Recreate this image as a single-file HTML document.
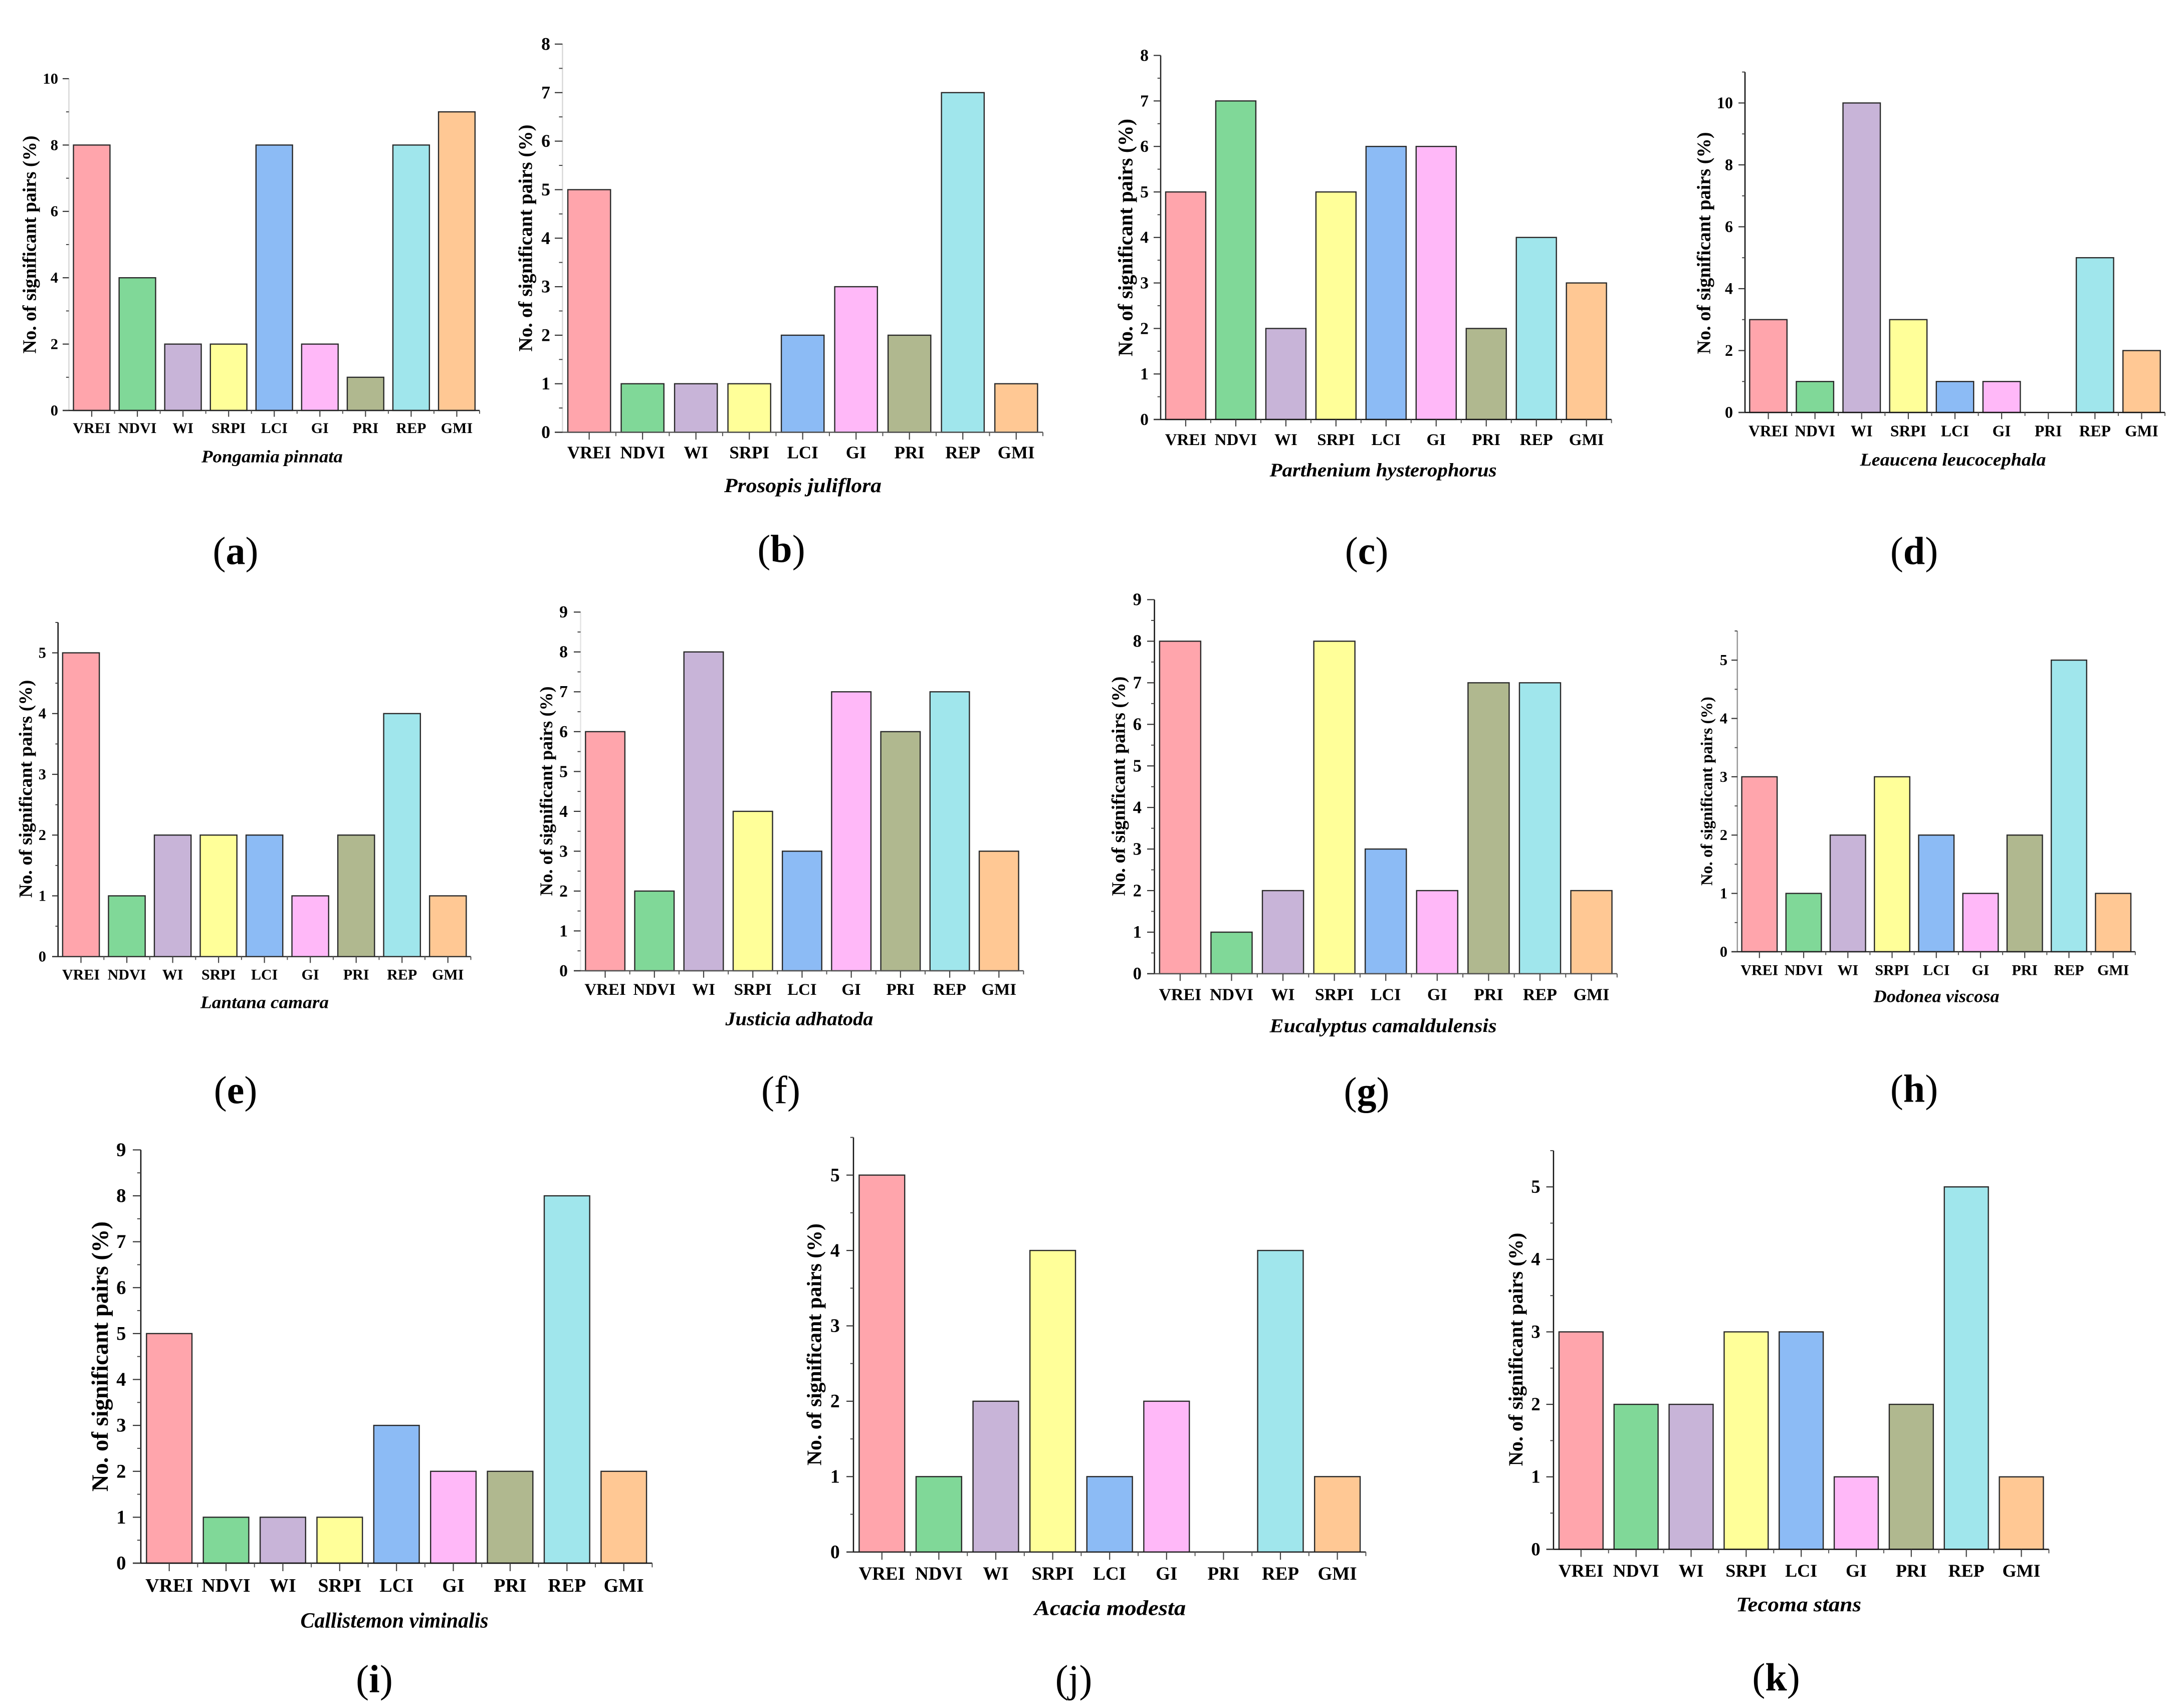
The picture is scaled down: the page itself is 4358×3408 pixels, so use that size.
<!DOCTYPE html>
<html lang="en">
<head>
<meta charset="utf-8">
<title>Number of significant pairs per vegetation index, by species</title>
<style>
html,body{margin:0;padding:0;background:#fff;}
svg{display:block;font-family:"Liberation Serif",serif;}
text{fill:#000;}
</style>
</head>
<body>
<svg id="figure" xmlns="http://www.w3.org/2000/svg" width="4358" height="3408" viewBox="0 0 4358 3408"></svg>
<script>
// Shared categories and colours
const categories = ['VREI','NDVI','WI','SRPI','LCI','GI','PRI','REP','GMI'];
const barColors = ['#FFA5AC','#80D898','#C8B4D8','#FFFF99','#8CBBF5','#FFB8F8','#B0B88F','#A0E6EC','#FFC894'];

// Species names
const speciesNames = ['Pongamia pinnata','Prosopis juliflora','Parthenium hysterophorus','Leaucena leucocephala','Lantana camara','Justicia adhatoda','Eucalyptus camaldulensis','Dodonea viscosa','Callistemon viminalis','Acacia modesta','Tecoma stans'];
const panelLetters = ['a','b','c','d','e','f','g','h','i','j','k'];
const yAxisTitle = 'No. of significant pairs (%)';

// Series values
const valuesA = [8,4,2,2,8,2,1,8,9];
const valuesB = [5,1,1,1,2,3,2,7,1];
const valuesC = [5,7,2,5,6,6,2,4,3];
const valuesD = [3,1,10,3,1,1,0,5,2];
const valuesE = [5,1,2,2,2,1,2,4,1];
const valuesF = [6,2,8,4,3,7,6,7,3];
const valuesG = [8,1,2,8,3,2,7,7,2];
const valuesH = [3,1,2,3,2,1,2,5,1];
const valuesI = [5,1,1,1,3,2,2,8,2];
const valuesJ = [5,1,2,4,1,2,0,4,1];
const valuesK = [3,2,2,3,3,1,2,5,1];

// Y tick labels
const ticksA = [0,2,4,6,8,10];
const ticksB = [0,1,2,3,4,5,6,7,8];
const ticksC = [0,1,2,3,4,5,6,7,8];
const ticksD = [0,2,4,6,8,10];
const ticksE = [0,1,2,3,4,5];
const ticksF = [0,1,2,3,4,5,6,7,8,9];
const ticksG = [0,1,2,3,4,5,6,7,8,9];
const ticksH = [0,1,2,3,4,5];
const ticksI = [0,1,2,3,4,5,6,7,8,9];
const ticksJ = [0,1,2,3,4,5];
const ticksK = [0,1,2,3,4,5];

// Y axis maxima
const axisMaxima = [10,8,8,11,5.5,9,9,5.5,9,5.5,5.5];

const allValues = [valuesA,valuesB,valuesC,valuesD,valuesE,valuesF,valuesG,valuesH,valuesI,valuesJ,valuesK];
const allTicks = [ticksA,ticksB,ticksC,ticksD,ticksE,ticksF,ticksG,ticksH,ticksI,ticksJ,ticksK];

// Page layout of each panel (pixels), separate from the data above
const layouts = [
 {xs:137.5,xe:957,y0:819,yTop:157,tickR:116,tickL:125,labX:60,labY:488,labLen:435,catY:854,catF:30,titleX:543,titleY:914,titleLen:282,letX:470,letY:1106,yAxisCol:'#d8d8d8',xAxisCol:'#222'},
 {xs:1122.4,xe:2081,y0:862.5,yTop:88,tickR:1098,tickL:1107,labX:1050,labY:475,labLen:453,catY:903,catF:35,titleX:1602,titleY:972,titleLen:314,letX:1559,letY:1102,yAxisCol:'#d8d8d8',xAxisCol:'#555'},
 {xs:2316,xe:3215.6,y0:837,yTop:110.6,tickR:2292,tickL:2302,labX:2247,labY:474,labLen:474,catY:877,catF:33,titleX:2760,titleY:941,titleLen:453,letX:2727,letY:1106,yAxisCol:'#222',xAxisCol:'#111'},
 {xs:3482,xe:4320,y0:823,yTop:143.7,tickR:3458,tickL:3469,labX:3401,labY:485,labLen:443,catY:860,catF:31.6,titleX:3897,titleY:920,titleLen:371,letX:3819.5,letY:1106,yAxisCol:'#111',xAxisCol:'#111'},
 {xs:115.8,xe:939.5,y0:1908.7,yTop:1242,tickR:92,tickL:104,labX:52,labY:1574,labLen:434.6,catY:1944.6,catF:30,titleX:528,titleY:2003,titleLen:256,letX:470,letY:2182,yAxisCol:'#111',xAxisCol:'#333'},
 {xs:1158.5,xe:2042.4,y0:1937,yTop:1221.3,tickR:1133,tickL:1145,labX:1091,labY:1578.5,labLen:418,catY:1974,catF:33,titleX:1595,titleY:2036,titleLen:295,letX:1558,letY:2182,yAxisCol:'#e4e4e4',xAxisCol:'#555',thinLetter:true},
 {xs:2303.6,xe:3226.8,y0:1942.9,yTop:1196.5,tickR:2278,tickL:2289,labX:2233,labY:1568.6,labLen:438,catY:1984.3,catF:34,titleX:2760,titleY:2049.5,titleLen:453,letX:2727,letY:2184,yAxisCol:'#111',xAxisCol:'#555'},
 {xs:3466.7,xe:4260.8,y0:1899,yTop:1259,tickR:3447,tickL:3455,labX:3406.6,labY:1578.6,labLen:377,catY:1935.6,catF:30,titleX:3864,titleY:1991,titleLen:251,letX:3819.5,letY:2179,yAxisCol:'#999',xAxisCol:'#222'},
 {xs:281,xe:1301.4,y0:3119,yTop:2294.4,tickR:251.5,tickL:265,labX:201,labY:2706.6,labLen:539,catY:3163.7,catF:38,titleX:787,titleY:3236.7,titleLen:375,letX:747,letY:3357,yAxisCol:'#111',xAxisCol:'#111'},
 {xs:1703,xe:2725.4,y0:3096.7,yTop:2269.5,tickR:1675.8,tickL:1689,labX:1626,labY:2682.6,labLen:483,catY:3140,catF:37,titleX:2215,titleY:3212,titleLen:302.6,letX:2142.5,letY:3357,yAxisCol:'#111',xAxisCol:'#222',thinLetter:true},
 {xs:3099.9,xe:4088.4,y0:3091.4,yTop:2295.9,tickR:3073.6,tickL:3085.5,labX:3025.7,labY:2692.5,labLen:465.6,catY:3133.9,catF:36,titleX:3589,titleY:3204.6,titleLen:250,letX:3544,letY:3353.6,yAxisCol:'#111',xAxisCol:'#111'}
];

const NS = 'http://www.w3.org/2000/svg';
const LABEL_EM = 11.583;
const figure = document.getElementById('figure');

function mk(tag, attrs, parent) {
  const node = document.createElementNS(NS, tag);
  for (const k in attrs) node.setAttribute(k, attrs[k]);
  parent.appendChild(node);
  return node;
}

layouts.forEach(function (L, p) {
  const values = allValues[p];
  const ticks = allTicks[p];
  const yMax = axisMaxima[p];
  const band = (L.xe - L.xs) / categories.length;
  const xCenter = function (i) { return L.xs + band * (i + 0.5); };
  const yScale = function (v) { return L.y0 - v * (L.y0 - L.yTop) / yMax; };
  const letter = panelLetters[p];

  const g = mk('g', {}, figure);
  
  

  // bars
  values.forEach(function (v, i) {
    const top = yScale(v);
    const w = band * 0.8;
    const bar = mk('rect', {x: xCenter(i) - w / 2, y: top, width: w, height: L.y0 - top, fill: barColors[i], stroke: '#2a2a2a', 'stroke-width': 2.4}, g);
    
    
  });

  // y axis line
  const yAxis = mk('line', {x1: L.xs, x2: L.xs, y1: L.yTop, y2: L.y0, stroke: L.yAxisCol, 'stroke-width': 2.5}, g);
  
  

  // x axis line
  const xAxis = mk('line', {x1: L.tickL, x2: L.xe, y1: L.y0, y2: L.y0, stroke: L.xAxisCol, 'stroke-width': 2.5}, g);
  
  

  // y ticks and labels
  const major = ticks[1] - ticks[0];
  const minorLen = (L.xs - L.tickL) * 0.45;
  ticks.forEach(function (t) {
    const yy = yScale(t);
    const tick = mk('line', {x1: L.tickL, x2: L.xs, y1: yy, y2: yy, stroke: '#333', 'stroke-width': 2.2}, g);
    
    
    const lab = mk('text', {x: L.tickR, y: yy + L.catF * 0.33, 'text-anchor': 'end', 'font-size': L.catF * 1.02, 'font-weight': 'bold'}, g);
    lab.textContent = String(t);
    
    
    if (t + major / 2 <= yMax) {
      const ym = yScale(t + major / 2);
      const minor = mk('line', {x1: L.xs - minorLen, x2: L.xs, y1: ym, y2: ym, stroke: '#444', 'stroke-width': 2}, g);
      
      
    }
  });

  // x ticks and labels
  categories.forEach(function (c, i) {
    const cx = xCenter(i);
    const tick = mk('line', {x1: cx, x2: cx, y1: L.y0, y2: L.y0 + (L.catF * 0.42), stroke: '#444', 'stroke-width': 2.2}, g);
    
    
    const edge = L.xs + band * (i + 1);
    const minor = mk('line', {x1: edge, x2: edge, y1: L.y0, y2: L.y0 + (L.catF * 0.22), stroke: '#555', 'stroke-width': 2}, g);
    
    
    const lab = mk('text', {x: cx, y: L.catY + L.catF * 0.33, 'text-anchor': 'middle', 'font-size': L.catF, 'font-weight': 'bold'}, g);
    lab.textContent = c;
    
    
  });

  // y axis title
  const labF = L.labLen / LABEL_EM;
  const yTitle = mk('text', {transform: 'translate(' + (L.labX + labF * 0.3) + ',' + L.labY + ') rotate(-90)', 'text-anchor': 'middle', 'font-size': labF, 'font-weight': 'bold', textLength: L.labLen, lengthAdjust: 'spacingAndGlyphs'}, g);
  yTitle.textContent = yAxisTitle;
  
  

  // species title
  const titF = L.catF * 1.15;
  const xTitle = mk('text', {x: L.titleX, y: L.titleY + titF * 0.25, 'text-anchor': 'middle', 'font-size': titF, 'font-weight': 'bold', 'font-style': 'italic', textLength: L.titleLen, lengthAdjust: 'spacingAndGlyphs'}, g);
  xTitle.textContent = speciesNames[p];
  
  

  // panel letter
  const letF = 78;
  const panelLabel = mk('text', {x: L.letX, y: L.letY + letF * 0.25, 'text-anchor': 'middle', 'font-size': letF}, g);
  
  
  mk('tspan', {}, panelLabel).textContent = '(';
  mk('tspan', {'font-weight': L.thinLetter ? 'normal' : 'bold'}, panelLabel).textContent = letter;
  mk('tspan', {}, panelLabel).textContent = ')';
});
</script>
</body>
</html>
